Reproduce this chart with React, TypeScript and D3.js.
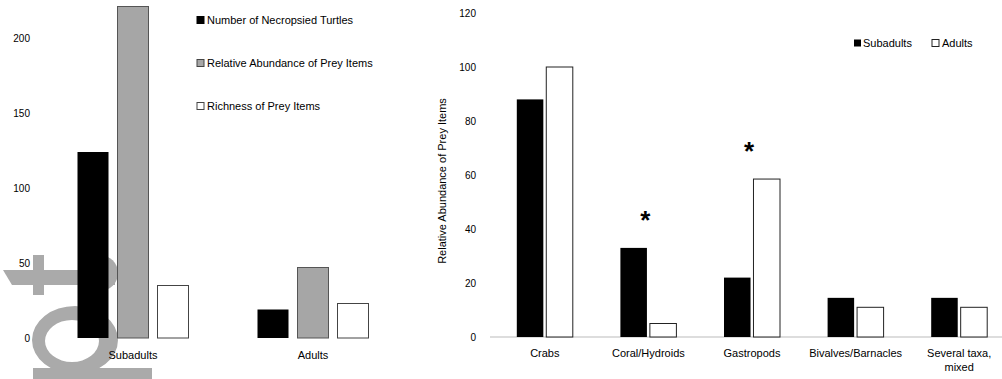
import React from 'react';
import * as d3 from 'd3';

// left panel
const turtleGroups = ['Subadults', 'Adults'];
const leftSeries = ['Number of Necropsied Turtles', 'Relative Abundance of Prey Items', 'Richness of Prey Items'];
const necropsied = [124, 19];
const abundance = [221, 47];
const richness = [35, 23];
const leftTicks = [0, 50, 100, 150, 200];

// right panel
const preyTypes = ['Crabs', 'Coral/Hydroids', 'Gastropods', 'Bivalves/Barnacles', 'Several taxa,|mixed'];
const subadultPrey = [88, 33, 22, 14.5, 14.5];
const adultPrey = [100, 5, 58.5, 11, 11];
const significant = [false, true, true, false, false];
const rightTicks = [0, 20, 40, 60, 80, 100, 120];

const FONT = 'Liberation Sans, Arial, sans-serif';

export default function App() {
  const leftValues = [necropsied, abundance, richness];
  const leftFill = ['#000', '#a6a6a6', '#fff'];
  const leftStroke = ['none', '#555', '#444'];

  const yL = d3.scaleLinear().domain([0, 200]).range([338, 38]);
  const xL = d3.scaleBand().domain(turtleGroups).range([43, 403]);
  const xLin = d3.scaleBand().domain(leftSeries).range([-60, 60]).paddingInner(0.225).paddingOuter(0.1125);

  const yR = d3.scaleLinear().domain([0, 120]).range([337, 13]);
  const xR = d3.scaleBand().domain(preyTypes).range([493, 1011]);
  const xRin = d3.scaleBand().domain(['Subadults', 'Adults']).range([-28, 28]).paddingInner(0.1);

  return (
    <svg width={1002} height={379} style={{ position: 'absolute', left: 0, top: 0, background: '#fff' }}>
      {/* grey watermark behind the left panel */}
      <g fill="#aaa">
        <polygon points="3,270 115,270 115,285 12,285" />
        <rect x={33} y={255} width={11} height={40} />
        <path d="M100,255 A18,18 0 0 1 100,291 Z" />
        <path fillRule="evenodd" d="M32,340 a43,34 0 1,0 86,0 a43,34 0 1,0 -86,0 Z M45,341 a27,21 0 1,0 54,0 a27,21 0 1,0 -54,0 Z" />
        <rect x={33} y={368} width={119} height={11} />
      </g>

      {/* left panel */}
      <g fontFamily={FONT}>
        {leftTicks.map(t => (
          <text key={t} x={30} y={yL(t)} dy="0.35em" textAnchor="end" fontSize={10}>{t}</text>
        ))}
        {leftSeries.map((s, si) =>
          turtleGroups.map((g, gi) => {
            const x = (xL(g) as number) + xL.bandwidth() / 2 + (xLin(s) as number);
            const v = leftValues[si][gi];
            return (
              <rect key={s + g} x={x} y={yL(v)} width={xLin.bandwidth()} height={yL(0) - yL(v)}
                fill={leftFill[si]} stroke={leftStroke[si]} strokeWidth={1} />
            );
          })
        )}
        {turtleGroups.map(g => (
          <text key={g} x={(xL(g) as number) + xL.bandwidth() / 2} y={355} dy="0.35em" textAnchor="middle" fontSize={11}>{g}</text>
        ))}
        {leftSeries.map((s, i) => (
          <g key={s} transform={`translate(197,${20 + i * 43})`}>
            <rect x={0} y={-3.5} width={7} height={7} fill={leftFill[i]} stroke={i === 0 ? '#000' : '#444'} strokeWidth={1} />
            <text x={10} y={0} dy="0.35em" fontSize={11}>{s}</text>
          </g>
        ))}
      </g>

      {/* right panel */}
      <g fontFamily={FONT}>
        <line x1={490} x2={1002} y1={yR(0)} y2={yR(0)} stroke="#bbb" strokeWidth={1} />
        {rightTicks.map(t => (
          <text key={t} x={476} y={yR(t)} dy="0.35em" textAnchor="end" fontSize={10}>{t}</text>
        ))}
        <text transform={`translate(446,${(yR(0) + yR(120)) / 2 + 6}) rotate(-90)`} textAnchor="middle" fontSize={11}>
          Relative Abundance of Prey Items
        </text>
        {preyTypes.map((p, i) => {
          const cx = (xR(p) as number) + xR.bandwidth() / 2;
          const sub = subadultPrey[i];
          const ad = adultPrey[i];
          return (
            <g key={p}>
              <rect x={cx + (xRin('Subadults') as number)} y={yR(sub)} width={xRin.bandwidth()} height={yR(0) - yR(sub)} fill="#000" />
              <rect x={cx + (xRin('Adults') as number)} y={yR(ad)} width={xRin.bandwidth()} height={yR(0) - yR(ad)}
                fill="#fff" stroke="#222" strokeWidth={1} />
              {significant[i] && (
                <text x={cx - 3} y={yR(Math.max(sub, ad)) - 37} dy="0.7em" textAnchor="middle" fontSize={26} fontWeight="bold">*</text>
              )}
              {p.split('|').map((line, li) => (
                <text key={line} x={cx} y={353 + li * 14} dy="0.35em" textAnchor="middle" fontSize={11}>{line}</text>
              ))}
            </g>
          );
        })}
        <rect x={854} y={39.5} width={7} height={7} fill="#000" />
        <text x={863} y={43} dy="0.35em" fontSize={11}>Subadults</text>
        <rect x={932} y={39.5} width={7} height={7} fill="#fff" stroke="#222" />
        <text x={942} y={43} dy="0.35em" fontSize={11}>Adults</text>
      </g>
    </svg>
  );
}
